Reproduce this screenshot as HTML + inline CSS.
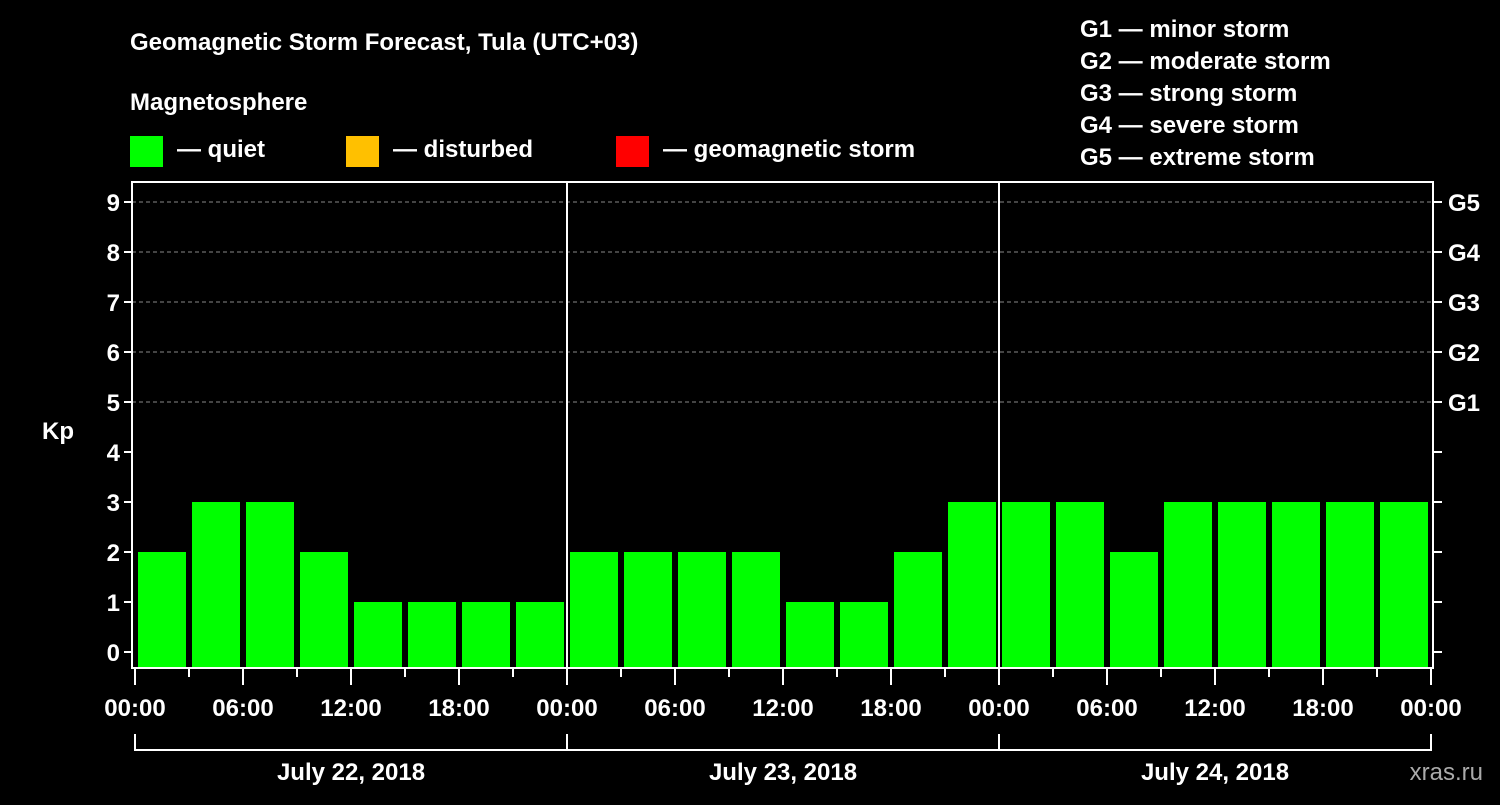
<!DOCTYPE html>
<html><head><meta charset="utf-8"><style>
body{margin:0;background:#000;width:1500px;height:800px;overflow:hidden}
svg text{font-family:"Liberation Sans",sans-serif;font-weight:bold;fill:#fff}
</style></head><body>
<svg id="c" width="1500" height="800">
<text x="130" y="50" font-size="24">Geomagnetic Storm Forecast, Tula (UTC+03)</text>
<text x="130" y="110" font-size="24">Magnetosphere</text>
<rect x="130" y="136" width="33" height="31" fill="#00ff00"/>
<text x="177" y="157" font-size="24">— quiet</text>
<rect x="346" y="136" width="33" height="31" fill="#ffc000"/>
<text x="393" y="157" font-size="24">— disturbed</text>
<rect x="616" y="136" width="33" height="31" fill="#ff0000"/>
<text x="663" y="157" font-size="24">— geomagnetic storm</text>
<g font-size="24">
<text x="1080" y="37">G1 — minor storm</text>
<text x="1080" y="69">G2 — moderate storm</text>
<text x="1080" y="101">G3 — strong storm</text>
<text x="1080" y="133">G4 — severe storm</text>
<text x="1080" y="165">G5 — extreme storm</text>
</g>
<text x="42" y="439" font-size="24">Kp</text>
<text x="1483" y="780" font-size="24" text-anchor="end" fill="#aaa" style="fill:#aaa;font-weight:normal">xras.ru</text>
<g id="plot"></g>
</svg>
<script>
const days=["July 22, 2018","July 23, 2018","July 24, 2018"];
const kpValues=[2,3,3,2,1,1,1,1, 2,2,2,2,1,1,2,3, 3,3,2,3,3,3,3,3];
const yTicks=[0,1,2,3,4,5,6,7,8,9];
const gLabels=["G1","G2","G3","G4","G5"];
const timeLabels=["00:00","06:00","12:00","18:00"];
const NS="http://www.w3.org/2000/svg";
const g=document.getElementById('plot');
const X0=135,SLOT=54,L=132,R=1433,T=182,B=668;
const x=i=>X0+i*SLOT;
const y=v=>652-v*50;
function el(t,a){const e=document.createElementNS(NS,t);for(const k in a)e.setAttribute(k,a[k]);g.appendChild(e);return e;}
// grid
yTicks.forEach(v=>{
 if(v>=5){const l=el('line',{x1:L,x2:R,y1:y(v),y2:y(v),stroke:'#888','stroke-dasharray':'4,3'});
 
 }
 const t=el('line',{x1:L-8,x2:L,y1:y(v),y2:y(v),stroke:'#fff','stroke-width':2});
 
 
 const t2=el('line',{x1:R,x2:R+9,y1:y(v),y2:y(v),stroke:'#fff','stroke-width':2});
 
 
 const tx=el('text',{x:L-12,y:y(v)+9,'font-size':24,'text-anchor':'end'});tx.textContent=v;
 
 
});
gLabels.forEach((s,i)=>{
 const tx=el('text',{x:1448,y:y(5+i)+9,'font-size':24});tx.textContent=s;
 
 
});
// bars
kpValues.forEach((v,i)=>{
 const r=el('rect',{x:x(i)+3,y:y(v),width:48,height:B-y(v),fill:v>=5?'#ff0000':(v>=4?'#ffc000':'#00ff00')});
 
 
});
// frame
const f=el('rect',{x:L,y:T,width:R-L,height:B-T,fill:'none',stroke:'#fff','stroke-width':2});


for(let d=1;d<days.length;d++){
 const l=el('line',{x1:x(d*8),x2:x(d*8),y1:T,y2:B,stroke:'#fff','stroke-width':2});
 
 
}
// x ticks
for(let i=0;i<=kpValues.length;i++){
 const major=i%2==0;
 const l=el('line',{x1:x(i),x2:x(i),y1:B,y2:B+(major?17:9),stroke:'#fff','stroke-width':2});
 
 
 if(major){
  const tx=el('text',{x:x(i),y:716,'font-size':24,'text-anchor':'middle'});tx.textContent=timeLabels[(i/2)%4];
  
  
 }
}
// day brackets
days.forEach((d,k)=>{
 const a=x(k*8),b=x(k*8+8);
 const p=el('path',{d:`M${a},734V750H${b}V734`,fill:'none',stroke:'#fff','stroke-width':2});
 
 
 const tx=el('text',{x:(a+b)/2,y:780,'font-size':24,'text-anchor':'middle'});tx.textContent=d;
 
 
});
</script>
</body></html>
